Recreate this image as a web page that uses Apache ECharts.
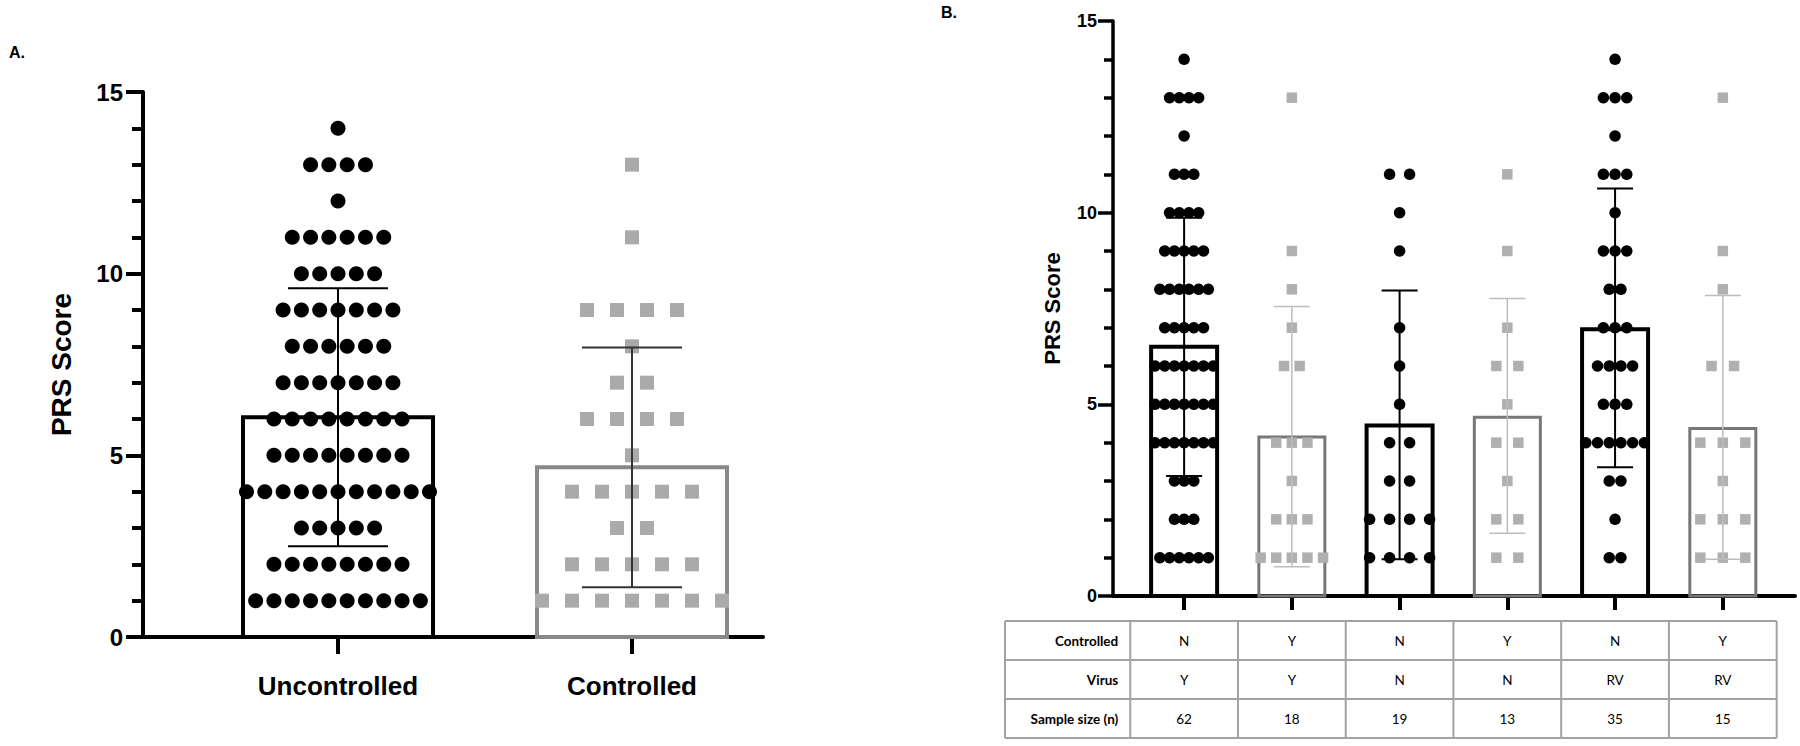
<!DOCTYPE html>
<html>
<head>
<meta charset="utf-8">
<script src="https://cdn.jsdelivr.net/npm/echarts@6/dist/echarts.min.js"></script>
<style>
  html, body { margin: 0; padding: 0; background: #fff; }
  #chart { width: 1800px; height: 746px; }
</style>
</head>
<body>
<div id="chart"></div>
<script>
// score levels shared by every dot row (1..14)
const scoreLevels = [1, 2, 3, 4, 5, 6, 7, 8, 9, 10, 11, 12, 13, 14];

// panel A: how many subjects sit on each score level
const groupNamesA = ['Uncontrolled', 'Controlled'];
const uncontrolledCounts = [10, 8, 5, 11, 8, 8, 7, 6, 7, 5, 6, 1, 4, 1];
const controlledCounts = [7, 5, 2, 5, 1, 4, 2, 1, 4, 0, 1, 0, 1, 0];
const meanA = [6.05, 4.67];
const sdLowA = [2.5, 1.37];
const sdHighA = [9.6, 7.97];

// panel B: six subgroups
const countsB1 = [6, 3, 3, 7, 7, 7, 5, 6, 5, 4, 3, 1, 4, 1];
const countsB2 = [5, 3, 1, 3, 0, 2, 1, 1, 1, 0, 0, 0, 1, 0];
const countsB3 = [4, 4, 2, 2, 1, 1, 1, 0, 1, 1, 2, 0, 0, 0];
const countsB4 = [2, 2, 1, 2, 1, 2, 1, 0, 1, 0, 1, 0, 0, 0];
const countsB5 = [2, 1, 2, 6, 3, 4, 3, 2, 3, 1, 3, 1, 3, 1];
const countsB6 = [3, 3, 1, 3, 0, 2, 0, 1, 1, 0, 0, 0, 1, 0];
const meanB = [6.5, 4.15, 4.45, 4.66, 6.96, 4.37];
const sdLowB = [3.13, 0.76, 0.96, 1.64, 3.36, 0.96];
const sdHighB = [9.87, 7.55, 7.97, 7.76, 10.63, 7.84];

// table under panel B
const tableRowNames = ['Controlled', 'Virus', 'Sample size (n)'];
const controlledRow = ['N', 'Y', 'N', 'Y', 'N', 'Y'];
const virusRow = ['Y', 'Y', 'N', 'N', 'RV', 'RV'];
const sampleSizeRow = ['62', '18', '19', '13', '35', '15'];

const FONT = 'Liberation Sans';
const BLACK = '#000';
const GREY_DOT = '#b0b0b0';

// spreads the points of one score row side by side (pixel offsets)
function dotRows(counts, xPos, spacing) {
  const out = [];
  counts.forEach((n, k) => {
    for (let i = 0; i < n; i++) {
      out.push({ value: [xPos, scoreLevels[k]], symbolOffset: [(i - (n - 1) / 2) * spacing, 0] });
    }
  });
  return out;
}

function barSeries(xi, yi, means, width, strokes, widths) {
  return {
    type: 'custom', xAxisIndex: xi, yAxisIndex: yi, z: 1, clip: false,
    data: means.map((m, i) => [i + 1, m]),
    encode: { x: 0, y: 1 },
    renderItem: function (params, api) {
      const i = params.dataIndex;
      const base = api.coord([api.value(0), 0]);
      const top = api.coord([api.value(0), api.value(1)]);
      return {
        type: 'rect',
        shape: { x: base[0] - width / 2, y: top[1], width: width, height: base[1] - top[1] },
        style: { fill: 'none', stroke: strokes[i], lineWidth: widths[i] }
      };
    }
  };
}

function errorSeries(xi, yi, lows, highs, cap, colors, widths) {
  return {
    type: 'custom', xAxisIndex: xi, yAxisIndex: yi, z: 5, clip: false,
    data: lows.map((l, i) => [i + 1, l, highs[i]]),
    encode: { x: 0, y: [1, 2] },
    renderItem: function (params, api) {
      const i = params.dataIndex;
      const lo = api.coord([api.value(0), api.value(1)]);
      const hi = api.coord([api.value(0), api.value(2)]);
      const st = { stroke: colors[i], lineWidth: widths[i] };
      return {
        type: 'group',
        children: [
          { type: 'line', shape: { x1: lo[0], y1: lo[1], x2: hi[0], y2: hi[1] }, style: st },
          { type: 'line', shape: { x1: hi[0] - cap, y1: hi[1], x2: hi[0] + cap, y2: hi[1] }, style: st },
          { type: 'line', shape: { x1: lo[0] - cap, y1: lo[1], x2: lo[0] + cap, y2: lo[1] }, style: st }
        ]
      };
    }
  };
}

function dotSeries(xi, yi, data, symbol, size, color) {
  return {
    type: 'scatter', xAxisIndex: xi, yAxisIndex: yi, z: 3,
    symbol: symbol, symbolSize: size, data: data,
    itemStyle: { color: color, opacity: 1 },
    silent: true
  };
}

function yAxisCfg(gi, labelSize, nameSize, nameGap, labelMargin, tickLen, minorLen, lw) {
  return {
    type: 'value', gridIndex: gi, min: 0, max: 15, interval: 5,
    name: 'PRS Score', nameLocation: 'middle', nameGap: nameGap, nameRotate: 90,
    nameTextStyle: { fontFamily: FONT, fontWeight: 'bold', fontSize: nameSize, color: BLACK },
    axisLine: { show: true, lineStyle: { color: BLACK, width: lw } },
    axisTick: { show: true, length: tickLen, lineStyle: { color: BLACK, width: lw } },
    minorTick: { show: true, splitNumber: 5, length: minorLen, lineStyle: { color: BLACK, width: lw } },
    axisLabel: { fontFamily: FONT, fontWeight: 'bold', fontSize: labelSize, color: BLACK, margin: labelMargin },
    splitLine: { show: false }
  };
}

const chart = echarts.init(document.getElementById('chart'), null, { renderer: 'svg' });

const darkB = [true, false, true, false, true, false];
const countsB = [countsB1, countsB2, countsB3, countsB4, countsB5, countsB6];
const spacingB = [9.7, 15.6, 20, 22, 11.7, 22.5];

const seriesB = countsB.map((c, i) =>
  dotSeries(1, 1, dotRows(c, i + 1, spacingB[i]),
    darkB[i] ? 'circle' : 'rect', darkB[i] ? 11.5 : 10.5, darkB[i] ? BLACK : GREY_DOT));

chart.setOption({
  animation: false,
  backgroundColor: '#fff',
  grid: [
    { left: 143, top: 92, width: 620, height: 545 },
    { left: 1113, top: 21, width: 682, height: 575 }
  ],
  xAxis: [
    {
      type: 'value', gridIndex: 0, min: 0.3367, max: 2.4456,
      axisLine: { show: true, onZero: false, lineStyle: { color: BLACK, width: 4 } },
      axisTick: { show: true, customValues: [1, 2], length: 17, lineStyle: { color: BLACK, width: 4 } },
      axisLabel: {
        customValues: [1, 2], margin: 36,
        fontFamily: FONT, fontWeight: 'bold', fontSize: 26, color: BLACK,
        formatter: v => groupNamesA[Math.round(v) - 1] || ''
      },
      splitLine: { show: false }
    },
    {
      type: 'value', gridIndex: 1, min: 0.34, max: 6.67,
      axisLine: { show: true, onZero: false, lineStyle: { color: BLACK, width: 4 } },
      axisTick: { show: true, customValues: [1, 2, 3, 4, 5, 6], length: 14, lineStyle: { color: BLACK, width: 4 } },
      axisLabel: { show: false },
      splitLine: { show: false }
    }
  ],
  yAxis: [
    yAxisCfg(0, 24, 28, 68, 20, 17, 11, 4),
    yAxisCfg(1, 18, 22, 50, 16, 15, 9, 3.5)
  ],
  series: [
    barSeries(0, 0, meanA, 190, [BLACK, '#888'], [4, 4]),
    dotSeries(0, 0, dotRows(uncontrolledCounts, 1, 18.3), 'circle', 15, BLACK),
    dotSeries(0, 0, dotRows(controlledCounts, 2, 30), 'rect', 14, '#aaaaaa'),
    errorSeries(0, 0, sdLowA, sdHighA, 50, [BLACK, '#333'], [2, 2]),
    barSeries(1, 1, meanB, 66,
      darkB.map(d => d ? BLACK : '#777'), darkB.map(d => d ? 4 : 3)),
    ...seriesB,
    errorSeries(1, 1, sdLowB, sdHighB, 18,
      darkB.map(d => d ? BLACK : '#bdbdbd'), darkB.map(d => d ? 2 : 1.5))
  ]
});

// table and panel letters, columns lined up with the B axis positions
const colX = [1, 2, 3, 4, 5, 6].map(v => chart.convertToPixel({ xAxisIndex: 1 }, v));
const half = (colX[1] - colX[0]) / 2;
const tableLeft = 1005;
const rowY = [621, 660, 699, 738];
const tableRight = colX[5] + half;
const lineStyle = { stroke: '#a3a3a3', lineWidth: 2 };

const graphics = [
  { type: 'text', left: 9, top: 44, style: { text: 'A.', fontFamily: FONT, fontWeight: 'bold', fontSize: 16, fill: BLACK } },
  { type: 'text', left: 941, top: 4, style: { text: 'B.', fontFamily: FONT, fontWeight: 'bold', fontSize: 16, fill: BLACK } }
];
rowY.forEach(y => graphics.push({
  type: 'line', shape: { x1: tableLeft, y1: y, x2: tableRight, y2: y }, style: lineStyle
}));
[tableLeft, colX[0] - half].concat(colX.map(x => x + half)).forEach(x => graphics.push({
  type: 'line', shape: { x1: x, y1: rowY[0], x2: x, y2: rowY[3] }, style: lineStyle
}));
const rowsData = [controlledRow, virusRow, sampleSizeRow];
tableRowNames.forEach((name, r) => {
  const cy = (rowY[r] + rowY[r + 1]) / 2;
  graphics.push({
    type: 'text', x: colX[0] - half - 12, y: cy,
    style: { text: name, fontFamily: 'Lato', fontWeight: 'bold', fontSize: 13.5, fill: '#000', align: 'right', verticalAlign: 'middle' }
  });
  rowsData[r].forEach((v, c) => graphics.push({
    type: 'text', x: colX[c], y: cy,
    style: { text: v, fontFamily: 'Lato', fontSize: 13.5, fill: '#000', align: 'center', verticalAlign: 'middle' }
  }));
});
chart.setOption({ graphic: graphics });
</script>
</body>
</html>
